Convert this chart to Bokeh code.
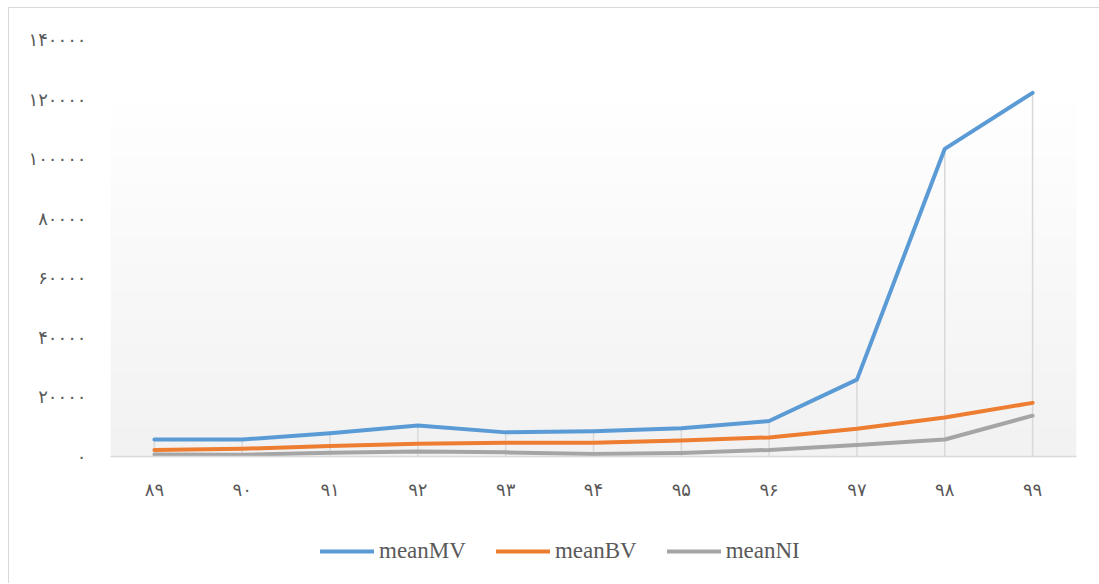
import numpy as np
from bokeh.plotting import figure
from bokeh.layouts import column
from bokeh.models import ColumnDataSource, FixedTicker, Legend, LegendItem, FactorRange, Range1d
from bokeh.embed import file_html
from bokeh.resources import INLINE

# ---- data ----
years = ["۸۹", "۹۰", "۹۱", "۹۲", "۹۳", "۹۴", "۹۵", "۹۶", "۹۷", "۹۸", "۹۹"]
meanMV = [5700, 5700, 7800, 10400, 8100, 8500, 9500, 11900, 25800, 103300, 122100]
meanBV = [2200, 2600, 3500, 4300, 4600, 4600, 5400, 6400, 9300, 13100, 18000]
meanNI = [700, 600, 1300, 1700, 1400, 800, 1200, 2200, 3900, 5700, 13700]
series_names = ["meanMV", "meanBV", "meanNI"]
colors = ["#5B9BD5", "#ED7D31", "#A5A5A5"]
y_ticks = [0, 20000, 40000, 60000, 80000, 100000, 120000, 140000]
y_tick_labels = ["۰", "۲۰۰۰۰", "۴۰۰۰۰", "۶۰۰۰۰", "۸۰۰۰۰", "۱۰۰۰۰۰", "۱۲۰۰۰۰", "۱۴۰۰۰۰"]

src = ColumnDataSource(dict(x=years, meanMV=meanMV, meanBV=meanBV, meanNI=meanNI,
                            top=np.maximum.reduce([meanMV, meanBV, meanNI]).tolist(),
                            zero=[0] * len(years)))

W = 1090
H1 = 510
H2 = 65

p = figure(width=W, height=H1, output_backend="svg", toolbar_location=None,
           x_range=FactorRange(factors=years, range_padding=0),
           y_range=Range1d(0, 140000),
           min_border_left=101, min_border_right=23, min_border_top=31, min_border_bottom=62)
p.background_fill_color = "white"
p.border_fill_color = "white"
p.outline_line_color = None
p.xgrid.visible = False
p.ygrid.visible = False

# plot-area gradient (white top -> light gray bottom)
n = 200
t = np.linspace(0, 1, n)  # 0 bottom, 1 top
g = (242 + (255 - 242) * np.clip(t / 0.85, 0, 1)).astype(np.uint32)
img = np.zeros((n, 1), dtype=np.uint32)
img[:, 0] = (255 << 24) | (g << 16) | (g << 8) | g
p.image_rgba(image=[img], x=0, y=0, dw=len(years), dh=140000)

# drop lines
p.segment(x0="x", y0="zero", x1="x", y1="top", source=src, line_color="#d9d9d9", line_width=1.5)

for name, c in zip(series_names, colors):
    p.line(x="x", y=name, source=src, line_color=c, line_width=4,
           line_join="round", line_cap="round")

# axes
p.yaxis.ticker = FixedTicker(ticks=y_ticks)
p.yaxis.major_label_overrides = {t_: l for t_, l in zip(y_ticks, y_tick_labels)}
p.yaxis.axis_line_color = None
p.yaxis.major_tick_line_color = None
p.yaxis.minor_tick_line_color = None
p.yaxis.major_label_standoff = 18
p.yaxis.major_label_text_font = "DejaVu Sans"
p.yaxis.major_label_text_font_size = "18px"
p.yaxis.major_label_text_color = "#595959"

p.xaxis.axis_line_color = "#d9d9d9"
p.xaxis.axis_line_width = 1.5
p.xaxis.major_tick_line_color = None
p.xaxis.minor_tick_line_color = None
p.xaxis.major_label_standoff = 16
p.xaxis.major_label_text_font = "DejaVu Sans"
p.xaxis.major_label_text_font_size = "18px"
p.xaxis.major_label_text_color = "#595959"

# legend strip (its frame is aligned with the main chart's frame by the column layout)
q = figure(width=W, height=H2, output_backend="svg", toolbar_location=None,
           x_range=Range1d(0, 1), y_range=Range1d(0, 1),
           x_axis_type=None, y_axis_type=None,
           min_border_left=0, min_border_right=0, min_border_top=0, min_border_bottom=0)
q.outline_line_color = None
q.grid.visible = False
q.background_fill_color = "white"
q.border_fill_color = "white"
items = []
for name, c in zip(series_names, colors):
    r = q.line(x=[np.nan], y=[np.nan], line_color=c, line_width=4, line_cap="round")
    items.append(LegendItem(label=name, renderers=[r]))
legend = Legend(items=items, orientation="horizontal", location=(210, 19),
                glyph_width=54, glyph_height=24, label_standoff=5, spacing=30,
                padding=0, margin=0, border_line_color=None, background_fill_alpha=0,
                label_text_font="Liberation Serif", label_text_font_size="23px",
                label_text_color="#595959")
q.add_layout(legend, "center")

layout = column(p, q, spacing=0)
layout.styles = {"margin-top": "7px", "margin-left": "8px",
                 "border-top": "1px solid #d9d9d9", "border-left": "1px solid #d9d9d9"}

open("out.html", "w").write(file_html(layout, INLINE))
